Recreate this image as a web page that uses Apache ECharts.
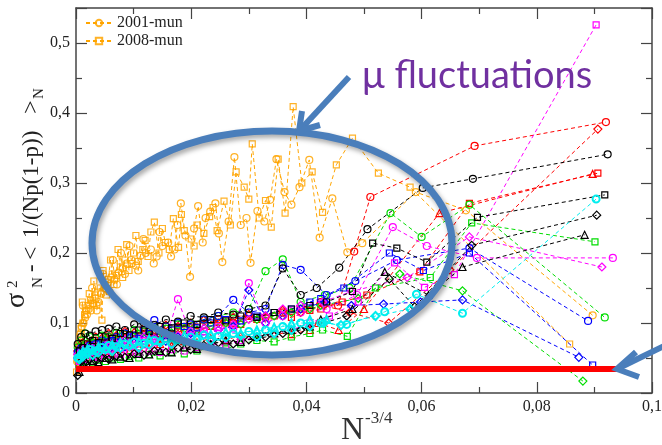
<!DOCTYPE html>
<html>
<head>
<meta charset="utf-8">
<style>html,body{margin:0;padding:0;background:#fff}#main{width:662px;height:445px}</style>
<script src="https://cdn.jsdelivr.net/npm/echarts@6/dist/echarts.min.js"></script>
</head>
<body>
<div id="main"></div>
<script>
// N^-3/4 positions of the dense part (two sets of sample sizes)
var xGridA = [0.0003,0.0009,0.0016,0.0024,0.0034,0.0045,0.0057,0.007,0.0085,0.0101,0.0118,0.0136,0.0156,0.0177,0.0199,0.0222,0.0247,0.0273,0.03,0.0329,0.0359,0.039];
var xGridB = [0.0006,0.0012,0.002,0.0029,0.0039,0.0051,0.0063,0.0077,0.0093,0.0109,0.0127,0.0146,0.0166,0.0188,0.021,0.0234,0.026,0.0286,0.0314,0.0344,0.0374,0.0406];

// orange municipal series
var mun2001 = [[0.0002,0.045],[0.0004,0.058],[0.0006,0.07],[0.0008,0.085],[0.001,0.095],[0.0012,0.125],[0.0013,0.1],[0.0016,0.108],[0.0019,0.112],[0.0022,0.12],
  [0.0026,0.118],[0.0028,0.15],[0.003,0.128],[0.0034,0.135],[0.0036,0.118],[0.0039,0.13],[0.0044,0.142],[0.0047,0.17],[0.0049,0.15],[0.0055,0.158],
  [0.0058,0.145],[0.0061,0.165],[0.0064,0.19],[0.0067,0.162],[0.0071,0.155],[0.0074,0.172],[0.0078,0.2],[0.0081,0.178],[0.0085,0.17],[0.0088,0.185],
  [0.0093,0.21],[0.0096,0.19],[0.0104,0.182],[0.0108,0.175],[0.0112,0.196],[0.0117,0.22],[0.0121,0.2],[0.013,0.205],[0.0135,0.185],[0.014,0.195],
  [0.0145,0.23],[0.015,0.21],[0.016,0.215],[0.0165,0.195],[0.0171,0.205],[0.0176,0.24],[0.0182,0.271],[0.019,0.225],[0.0198,0.166],[0.0205,0.235],
  [0.0212,0.267],[0.022,0.215],[0.0225,0.25],[0.0233,0.259],[0.0242,0.271],[0.0248,0.228],[0.0254,0.187],[0.0265,0.245],[0.0275,0.337],[0.0286,0.24],
  [0.0296,0.25],[0.0303,0.186],[0.0315,0.26],[0.0327,0.245],[0.0337,0.276],[0.0348,0.334],[0.0362,0.287],[0.0374,0.269],[0.0388,0.294],[0.0405,0.333],
  [0.0423,0.222],[0.0445,0.278],[0.0471,0.201],[0.0497,0.214],[0.059,0.287],[0.0677,0.261],[0.0897,0.111]];
var mun2008 = [[0.0001,0.03],[0.0003,0.048],[0.0005,0.065],[0.0007,0.08],[0.0009,0.092],[0.0011,0.13],[0.0012,0.1],[0.0015,0.112],[0.0018,0.118],[0.0021,0.125],
  [0.0023,0.142],[0.0025,0.132],[0.0029,0.128],[0.0031,0.16],[0.0033,0.14],[0.0036,0.125],[0.0038,0.144],[0.0042,0.15],[0.0045,0.104],[0.0047,0.175],
  [0.005,0.155],[0.0053,0.14],[0.0056,0.162],[0.006,0.19],[0.0063,0.17],[0.0066,0.155],[0.007,0.168],[0.0073,0.205],[0.0077,0.18],[0.0081,0.165],
  [0.0085,0.19],[0.0088,0.212],[0.0092,0.175],[0.0096,0.185],[0.01,0.2],[0.0104,0.225],[0.0108,0.188],[0.0116,0.205],[0.012,0.218],[0.0125,0.195],
  [0.013,0.23],[0.0136,0.244],[0.0144,0.2],[0.015,0.235],[0.0155,0.215],[0.0162,0.205],[0.0169,0.249],[0.0178,0.208],[0.0183,0.255],[0.0188,0.232],
  [0.02,0.22],[0.0205,0.21],[0.021,0.24],[0.0222,0.228],[0.0232,0.252],[0.0238,0.265],[0.0245,0.232],[0.0257,0.274],[0.0268,0.24],[0.0278,0.316],
  [0.0292,0.294],[0.03,0.277],[0.0306,0.356],[0.0318,0.25],[0.0329,0.275],[0.0339,0.237],[0.0351,0.334],[0.0363,0.257],[0.0377,0.409],[0.0392,0.3],
  [0.041,0.316],[0.0428,0.258],[0.0452,0.326],[0.048,0.364],[0.0525,0.314],[0.058,0.294],[0.0857,0.07]];

// other curves: values on the dense grid, then sparse tail points
var redCircleY = [0.055,0.065,0.07,0.068,0.075,0.072,0.08,0.078,0.085,0.082,0.09,0.088,0.095,0.092,0.1,0.097,0.105,0.1,0.11,0.108,0.115,0.12];
var redCircleTail = [[0.0425,0.13],[0.0455,0.125],[0.0483,0.202],[0.0511,0.28],[0.0692,0.353],[0.092,0.387]];
var redSquareY = [0.05,0.058,0.062,0.06,0.066,0.07,0.068,0.075,0.073,0.08,0.078,0.085,0.083,0.09,0.088,0.095,0.1,0.098,0.105,0.11,0.108,0.118];
var redSquareTail = [[0.0425,0.12],[0.0462,0.13],[0.0505,0.14],[0.0597,0.173],[0.0683,0.271],[0.0906,0.314]];
var redTriY = [0.045,0.05,0.055,0.052,0.058,0.06,0.057,0.063,0.06,0.066,0.064,0.07,0.068,0.074,0.072,0.078,0.076,0.082,0.08,0.086,0.084,0.09];
var redTriTail = [[0.042,0.1],[0.0456,0.09],[0.05,0.12],[0.0631,0.257],[0.0897,0.313]];
var redDiaY = [0.06,0.07,0.075,0.072,0.08,0.078,0.085,0.082,0.088,0.086,0.093,0.09,0.097,0.095,0.1,0.104,0.1,0.108,0.112,0.11,0.118,0.115];
var redDiaTail = [[0.043,0.125],[0.0475,0.115],[0.0543,0.1],[0.0649,0.176],[0.0906,0.377]];
var blackCircleY = [0.07,0.08,0.085,0.082,0.088,0.09,0.092,0.095,0.09,0.098,0.1,0.097,0.105,0.102,0.11,0.108,0.115,0.112,0.12,0.125,0.178,0.14];
var blackCircleTail = [[0.0418,0.15],[0.0457,0.179],[0.0506,0.234],[0.0602,0.293],[0.0689,0.306],[0.0923,0.341]];
var blackSquareY = [0.06,0.065,0.07,0.075,0.072,0.08,0.078,0.085,0.083,0.09,0.088,0.095,0.093,0.1,0.098,0.105,0.103,0.11,0.108,0.115,0.12,0.125];
var blackSquareTail = [[0.0435,0.13],[0.048,0.145],[0.0515,0.214],[0.0557,0.207],[0.0609,0.187],[0.0697,0.251],[0.0918,0.283]];
var blackDiaY = [0.025,0.045,0.043,0.048,0.046,0.05,0.048,0.053,0.051,0.056,0.054,0.06,0.058,0.064,0.062,0.068,0.072,0.07,0.076,0.08,0.085,0.09];
var blackDiaTail = [[0.043,0.1],[0.047,0.11],[0.0544,0.163],[0.0588,0.123],[0.0687,0.211],[0.0904,0.254]];
var blackTriY = [0.03,0.042,0.04,0.046,0.044,0.05,0.048,0.052,0.05,0.056,0.055,0.06,0.058,0.065,0.063,0.07,0.075,0.073,0.08,0.085,0.09,0.095];
var blackTriTail = [[0.0425,0.105],[0.048,0.12],[0.0536,0.173],[0.0612,0.14],[0.0671,0.18],[0.0883,0.226]];
var blueCircleY = [0.058,0.064,0.062,0.068,0.07,0.075,0.073,0.08,0.085,0.082,0.09,0.104,0.095,0.1,0.098,0.105,0.11,0.133,0.115,0.12,0.183,0.176];
var blueCircleTail = [[0.0435,0.14],[0.0485,0.16],[0.0557,0.19],[0.0683,0.207],[0.0889,0.103]];
var blueSquareY = [0.055,0.06,0.065,0.063,0.07,0.068,0.075,0.073,0.08,0.078,0.085,0.083,0.09,0.095,0.093,0.1,0.105,0.103,0.11,0.115,0.12,0.13];
var blueSquareTail = [[0.0425,0.135],[0.0465,0.15],[0.0544,0.2],[0.0603,0.175],[0.0683,0.2],[0.0897,0.04]];
var blueDiaY = [0.05,0.056,0.054,0.06,0.058,0.064,0.062,0.068,0.066,0.072,0.07,0.076,0.074,0.08,0.085,0.083,0.09,0.095,0.147,0.1,0.11,0.12];
var blueDiaTail = [[0.0432,0.13],[0.0478,0.125],[0.0534,0.127],[0.0598,0.13],[0.0671,0.133],[0.0873,0.051]];
var greenCircleY = [0.065,0.075,0.085,0.08,0.078,0.082,0.08,0.086,0.084,0.09,0.088,0.094,0.092,0.098,0.1,0.105,0.11,0.115,0.12,0.174,0.191,0.13];
var greenCircleTail = [[0.0432,0.14],[0.0475,0.15],[0.0546,0.257],[0.06,0.223],[0.0683,0.269],[0.0918,0.108]];
var greenSquareY = [0.04,0.042,0.045,0.043,0.047,0.045,0.05,0.048,0.052,0.05,0.055,0.053,0.058,0.056,0.06,0.065,0.063,0.07,0.075,0.073,0.08,0.085];
var greenSquareTail = [[0.0428,0.09],[0.0471,0.081],[0.052,0.15],[0.0615,0.165],[0.0687,0.243],[0.0901,0.216]];
var greenDiaY = [0.06,0.068,0.066,0.072,0.07,0.076,0.074,0.08,0.078,0.084,0.082,0.088,0.086,0.092,0.09,0.096,0.1,0.098,0.105,0.11,0.115,0.12];
var greenDiaTail = [[0.0425,0.125],[0.049,0.135],[0.0562,0.17],[0.0671,0.146],[0.088,0.017]];
var magCircleY = [0.05,0.055,0.06,0.058,0.063,0.06,0.066,0.064,0.07,0.068,0.074,0.072,0.078,0.134,0.082,0.088,0.094,0.092,0.157,0.1,0.11,0.115];
var magCircleTail = [[0.0435,0.12],[0.0488,0.14],[0.055,0.237],[0.0609,0.21],[0.0696,0.193],[0.0932,0.193]];
var magSquareY = [0.045,0.05,0.048,0.053,0.051,0.056,0.054,0.055,0.058,0.056,0.06,0.058,0.062,0.06,0.065,0.07,0.068,0.075,0.08,0.085,0.09,0.1];
var magSquareTail = [[0.044,0.11],[0.049,0.13],[0.0553,0.186],[0.0605,0.151],[0.0657,0.169],[0.0903,0.526]];
var magDiaY = [0.055,0.06,0.065,0.063,0.068,0.066,0.072,0.07,0.076,0.074,0.08,0.078,0.084,0.082,0.088,0.092,0.09,0.098,0.105,0.11,0.12,0.125];
var magDiaTail = [[0.0428,0.13],[0.0478,0.145],[0.0575,0.165],[0.0683,0.223],[0.0913,0.18]];
var cyanCircleY = [0.05,0.055,0.058,0.062,0.06,0.065,0.068,0.066,0.07,0.073,0.071,0.075,0.078,0.076,0.08,0.083,0.081,0.085,0.088,0.09,0.095,0.1];
var cyanCircleTail = [[0.0425,0.1],[0.047,0.098],[0.0536,0.116],[0.0591,0.141],[0.0671,0.114],[0.0903,0.277]];
var cyanDiaY = [0.048,0.052,0.056,0.054,0.058,0.062,0.06,0.064,0.067,0.065,0.069,0.072,0.07,0.074,0.077,0.075,0.079,0.082,0.08,0.085,0.09,0.095];
var cyanDiaTail = [[0.043,0.1],[0.046,0.097],[0.052,0.11],[0.058,0.12]];
var cyanTriY = [0.055,0.06,0.063,0.061,0.066,0.064,0.069,0.072,0.07,0.074,0.077,0.075,0.079,0.082,0.08,0.084,0.087,0.085,0.09,0.094,0.1,0.105];
var cyanTriTail = [[0.0435,0.105]];

// red reference level
var redLevel = 0.0343;
var redLineEnd = 0.0939;

var ORANGE = '#ffa500', RED = '#ff0000', BLACK = '#000000', BLUE = '#0000ff',
    GREEN = '#00dd00', MAG = '#ff00ff', CYAN = '#00eeee';
var symSize = {circle: 7, rect: 6, diamond: 8, triangle: 7};

function curve(name, color, symbol, data, bw) {
    return {
        name: name,
        type: 'line',
        data: data,
        symbol: symbol,
        symbolSize: symSize[symbol],
        itemStyle: {color: 'rgba(255,255,255,0)', borderColor: color, borderWidth: bw || 1.2},
        lineStyle: {color: color, width: 1, type: [4, 3]},
        emphasis: {disabled: true},
        animation: false
    };
}
function onGrid(xs, ys, tail) {
    return xs.map(function (x, i) { return [x, ys[i]]; }).concat(tail);
}

var series = [
    curve('2001-mun', ORANGE, 'circle', mun2001),
    curve('2008-mun', ORANGE, 'rect', mun2008),
    curve('r1', RED, 'circle', onGrid(xGridA, redCircleY, redCircleTail)),
    curve('r2', RED, 'rect', onGrid(xGridB, redSquareY, redSquareTail)),
    curve('r3', RED, 'triangle', onGrid(xGridB, redTriY, redTriTail)),
    curve('r4', RED, 'diamond', onGrid(xGridA, redDiaY, redDiaTail)),
    curve('g1', GREEN, 'circle', onGrid(xGridA, greenCircleY, greenCircleTail)),
    curve('g2', GREEN, 'rect', onGrid(xGridB, greenSquareY, greenSquareTail)),
    curve('g3', GREEN, 'diamond', onGrid(xGridB, greenDiaY, greenDiaTail)),
    curve('b1', BLUE, 'circle', onGrid(xGridA, blueCircleY, blueCircleTail)),
    curve('b2', BLUE, 'rect', onGrid(xGridB, blueSquareY, blueSquareTail)),
    curve('b3', BLUE, 'diamond', onGrid(xGridA, blueDiaY, blueDiaTail)),
    curve('m1', MAG, 'circle', onGrid(xGridA, magCircleY, magCircleTail)),
    curve('m2', MAG, 'rect', onGrid(xGridB, magSquareY, magSquareTail)),
    curve('m3', MAG, 'diamond', onGrid(xGridA, magDiaY, magDiaTail)),
    curve('k1', BLACK, 'circle', onGrid(xGridA, blackCircleY, blackCircleTail)),
    curve('k2', BLACK, 'rect', onGrid(xGridB, blackSquareY, blackSquareTail)),
    curve('k3', BLACK, 'diamond', onGrid(xGridA, blackDiaY, blackDiaTail)),
    curve('k4', BLACK, 'triangle', onGrid(xGridB, blackTriY, blackTriTail)),
    curve('c1', CYAN, 'circle', onGrid(xGridA, cyanCircleY, cyanCircleTail), 2),
    curve('c2', CYAN, 'diamond', onGrid(xGridB, cyanDiaY, cyanDiaTail), 2),
    curve('c3', CYAN, 'triangle', onGrid(xGridB, cyanTriY, cyanTriTail), 2),
    {
        name: 'level', type: 'line', symbol: 'none',
        data: [[0, redLevel], [redLineEnd, redLevel]],
        lineStyle: {color: RED, width: 6}, animation: false, z: 5
    }
];
series[0].itemStyle.opacity = 0.85;
series[1].itemStyle.opacity = 0.85;

function fmt(v) {
    if (v > 0.52) return '';
    return v === 0 ? '0' : String(+v.toFixed(2)).replace('.', ',');
}
var axisCol = '#444';
function axis(pos, extra) {
    var a = {
        type: 'value', position: pos,
        axisLine: {onZero: false, lineStyle: {color: axisCol, width: 1.5}},
        axisTick: {inside: true, length: 11, lineStyle: {color: axisCol, width: 1.2}},
        minorTick: {show: true, splitNumber: 2, length: 6, lineStyle: {color: axisCol, width: 1.2}},
        splitLine: {show: false},
        axisLabel: {show: pos === 'bottom' || pos === 'left', formatter: fmt,
            fontFamily: 'Liberation Serif', fontSize: 16, color: '#222', margin: 6}
    };
    for (var k in extra) a[k] = extra[k];
    return a;
}

var serif = 'Liberation Serif';
var blueAnn = '#4a7ebb';
var myChart = echarts.init(document.getElementById('main'));
var option = {
    animation: false,
    grid: {left: 76, right: 10, top: 8, bottom: 52, containLabel: false, outerBoundsMode: 'none'},
    legend: {
        data: ['2001-mun', '2008-mun'], orient: 'vertical', left: 80, top: 10,
        itemWidth: 26, itemHeight: 8, itemGap: 2,
        textStyle: {fontFamily: serif, fontSize: 16, color: '#222'}
    },
    xAxis: [axis('bottom', {min: 0, max: 0.1, interval: 0.02}), axis('top', {min: 0, max: 0.1, interval: 0.02})],
    yAxis: [axis('left', {min: 0, max: 0.55, interval: 0.1}), axis('right', {min: 0, max: 0.55, interval: 0.1})],
    series: series,
    graphic: {elements: [
        // y axis title, written bottom to top
        {type: 'group', x: 0, y: 310, rotation: Math.PI / 2, children: [
            {type: 'text', x: 2, y: 17, style: {text: 'σ', font: '28px ' + serif, fill: '#222', verticalAlign: 'middle'}},
            {type: 'text', x: 22, y: 13, style: {text: '2', font: '15px ' + serif, fill: '#222', verticalAlign: 'middle'}},
            {type: 'text', x: 22, y: 38, style: {text: 'N', font: '15px ' + serif, fill: '#222', verticalAlign: 'middle'}},
            {type: 'text', x: 38, y: 32, style: {text: '-', font: '23px ' + serif, fill: '#222', verticalAlign: 'middle'}},
            {type: 'text', x: 50, y: 32, style: {text: '<', font: '24px ' + serif, fill: '#222', verticalAlign: 'middle'}},
            {type: 'text', x: 72, y: 32, style: {text: '1/(Np(1-p))', font: '23px ' + serif, fill: '#222', verticalAlign: 'middle'}},
            {type: 'text', x: 196, y: 32, style: {text: '>', font: '24px ' + serif, fill: '#222', verticalAlign: 'middle'}},
            {type: 'text', x: 211, y: 39, style: {text: 'N', font: '15px ' + serif, fill: '#222', verticalAlign: 'middle'}}
        ]},
        // x axis title
        {type: 'text', x: 341, y: 431, style: {text: 'N', font: '32px ' + serif, fill: '#333', verticalAlign: 'middle'}},
        {type: 'text', x: 365, y: 419, style: {text: '-3/4', font: '17px ' + serif, fill: '#333', verticalAlign: 'middle'}},
        // annotations
        {type: 'ellipse', z: 100, shape: {cx: 272, cy: 243, rx: 180, ry: 112},
            style: {fill: 'none', stroke: blueAnn, lineWidth: 7, shadowBlur: 5, shadowOffsetX: 2, shadowOffsetY: 3, shadowColor: 'rgba(0,0,0,0.35)'}},
        {type: 'line', z: 100, shape: {x1: 349, y1: 77, x2: 301, y2: 129},
            style: {stroke: blueAnn, lineWidth: 6}},
        {type: 'polyline', z: 100, shape: {points: [[302, 111], [299, 131], [320, 125]]},
            style: {stroke: blueAnn, lineWidth: 6, fill: 'none'}},
        {type: 'line', z: 100, shape: {x1: 664, y1: 346, x2: 621, y2: 367},
            style: {stroke: blueAnn, lineWidth: 6}},
        {type: 'polyline', z: 100, shape: {points: [[636, 352], [617, 369], [639, 377]]},
            style: {stroke: blueAnn, lineWidth: 6, fill: 'none'}},
        {type: 'text', z: 100, x: 362, y: 76, style: {text: 'μ fluctuations', font: '38px Lato', fill: '#7030a0', verticalAlign: 'middle'}}
    ]}
};
myChart.setOption(option);
</script>
</body>
</html>
